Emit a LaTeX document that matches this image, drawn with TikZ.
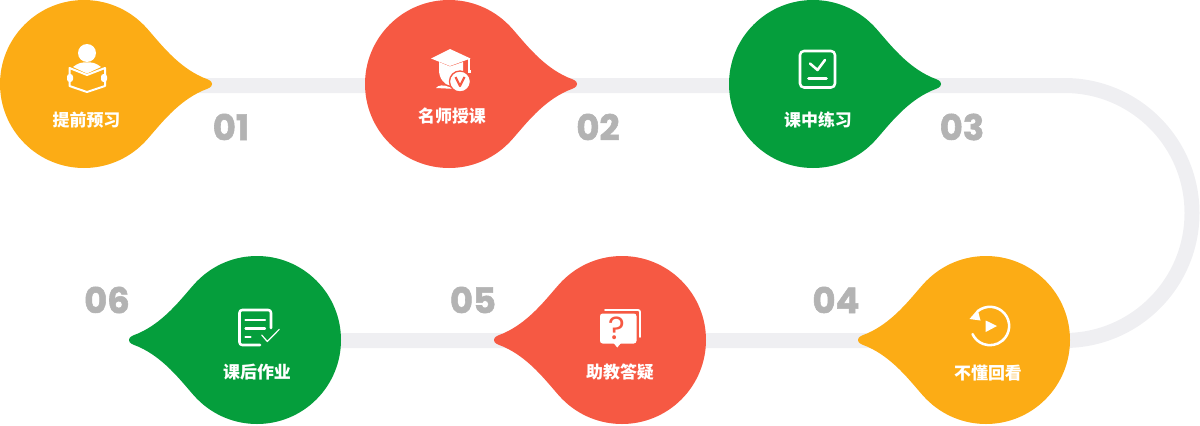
\documentclass[tikz,border=0pt]{standalone}
\usepackage{fontspec}
\newfontfamily\cjkfont{Noto Sans CJK SC}
\newfontfamily\numfont{Poppins}[BoldFeatures={FakeBold=1.6}]
\definecolor{dropyellow}{RGB}{252,172,21}
\definecolor{dropred}{RGB}{246,89,67}
\definecolor{dropgreen}{RGB}{5,158,60}
\definecolor{trackgray}{RGB}{239,239,242}
\definecolor{numgray}{RGB}{179,179,179}
\tikzset{
  track/.style={draw=trackgray,line width=11.25pt},
  droplabel/.style={text=white,inner sep=0pt,font=\cjkfont\bfseries\fontsize{12.7pt}{14pt}\selectfont},
  numlabel/.style={text=numgray,inner sep=0pt,font=\numfont\bfseries\fontsize{26.5pt}{28pt}\selectfont},
  iconline/.style={draw=white,line width=1.9pt,line join=round,line cap=round}
}
% one drop: centre x, centre y, side of the tip (1 or -1), colour
\newcommand{\dropshape}[4]{%
  \begin{scope}[shift={(#1,#2)},xscale=#3]
    \fill [#4] (59.4,-59.4) .. controls (71,-48) and (90,-19) .. (119,-6.5)
      .. controls (124,-4.5) and (128,-3.5) .. (128,0)
      .. controls (128,3.5) and (124,4.5) .. (119,6.5)
      .. controls (90,19) and (71,48) .. (59.4,59.4)
      arc[start angle=45,delta angle=270,radius=84] -- cycle;
  \end{scope}}
\begin{document}
\begin{tikzpicture}[x=0.75pt,y=0.75pt,yscale=-1,xscale=1]
    \useasboundingbox (0,0) rectangle (1200,425);

    % track
    \coordinate (start) at (84,85.5);
    \coordinate (bendtop) at (1064.5,85.5);
    \coordinate (end) at (257,340.5);
    \draw [track] (start) -- (bendtop) arc[start angle=-90,end angle=90,radius=127.5] -- (end);

    % drops
    \dropshape{84}{84}{1}{dropyellow}
    \dropshape{449}{84}{1}{dropred}
    \dropshape{813}{84}{1}{dropgreen}
    \dropshape{986}{340}{-1}{dropyellow}
    \dropshape{622}{340}{-1}{dropred}
    \dropshape{257}{340}{-1}{dropgreen}

    % labels
    \node [droplabel] (prepare) at (86.5,120) {提前预习};
    \node [droplabel] (lesson) at (452,116) {名师授课};
    \node [droplabel] (practice) at (818,120) {课中练习};
    \node [droplabel] (replay) at (988,373) {不懂回看};
    \node [droplabel] (answer) at (620,372) {助教答疑};
    \node [droplabel] (homework) at (257,372) {课后作业};

    % numbers
    \node [numlabel] (num1) at (231,127) {01};
    \node [numlabel] (num2) at (598,127) {02};
    \node [numlabel] (num3) at (962,127) {03};
    \node [numlabel] (num4) at (836,300) {04};
    \node [numlabel] (num5) at (473,300) {05};
    \node [numlabel] (num6) at (107,300) {06};

    % icon reader
    \fill [white] (87,53) circle (9);
    \fill [white] (73,67) .. controls (78,63) and (82,62) .. (87,62.5) .. controls (92,62) and (96,63) .. (101,67) -- (87,73.5) -- cycle;
    \draw [iconline,line width=1.5pt] (69.5,68) -- (87,75) -- (105,68) -- (105,86) -- (87,92) -- (69.5,86) -- cycle;
    \fill [white,rounded corners=2pt] (67,74) rectangle (73,82);
    \fill [white,rounded corners=2pt] (101,74) rectangle (107,82);

    % icon cap
    \fill [white] (431,58.5) -- (450,49) -- (470.5,58.5) -- (450,66) -- cycle;
    \draw [white,line width=1pt] (469,58.5) -- (469,70);
    \fill [white] (467.5,70) rectangle (470.5,73);
    \fill [white] (439,62) -- (450,66.5) -- (463,62) -- (463,72) .. controls (462,80) and (456,85) .. (450,85.5) .. controls (445,85) and (439,79) .. (439,70) -- cycle;
    \fill [white] (436,88) .. controls (438,85) and (444,84.5) .. (449,87) -- (456,89) -- cycle;
    \fill [white,draw=dropred,line width=1pt] (460,81.5) circle (10.5);
    \draw [dropred,line width=1.6pt,line join=round] (455.5,77) -- (460,86) -- (464.5,77);

    % icon check box
    \draw [iconline,rounded corners=3pt] (800,51) rectangle (835,87.5);
    \draw [iconline] (810,63.5) -- (817.5,70) -- (825,60);
    \draw [iconline] (808.5,78.3) -- (826.5,78.3);

    % icon replay
    \draw [iconline] (977.6,311.3) arc[start angle=-130,end angle=155,radius=19.2];
    \fill [white] (977.7,309.5) -- (969.5,319) -- (980.5,320.5) -- cycle;
    \fill [white] (985.7,320.5) -- (997,326) -- (985.7,332) -- cycle;

    % icon question
    \draw [iconline,line width=1.4pt,rounded corners=1.5pt] (605,310) -- (640,310) -- (640,337);
    \fill [white,rounded corners=2pt] (600,313.5) rectangle (636.5,343.5);
    \fill [white] (613.5,343) -- (617.3,347.5) -- (621,343) -- cycle;
    \node [text=dropred,inner sep=0pt,font=\numfont\fontsize{24pt}{26pt}\selectfont] (mark) at (617.3,328) {?};

    % icon homework
    \draw [iconline,rounded corners=2pt] (271,328) -- (271,310) -- (239.5,310) -- (239.5,345) -- (260,345);
    \draw [iconline,line width=1.6pt] (245.5,320) -- (265,320);
    \draw [iconline,line width=1.6pt] (245.5,328.5) -- (265,328.5);
    \draw [iconline,line width=1.6pt] (245.5,337.3) -- (250.5,337.3);
    \draw [iconline,line width=0.9pt] (261.7,335) -- (267.3,341.5) -- (279.3,329.3);
\end{tikzpicture}
\end{document}
